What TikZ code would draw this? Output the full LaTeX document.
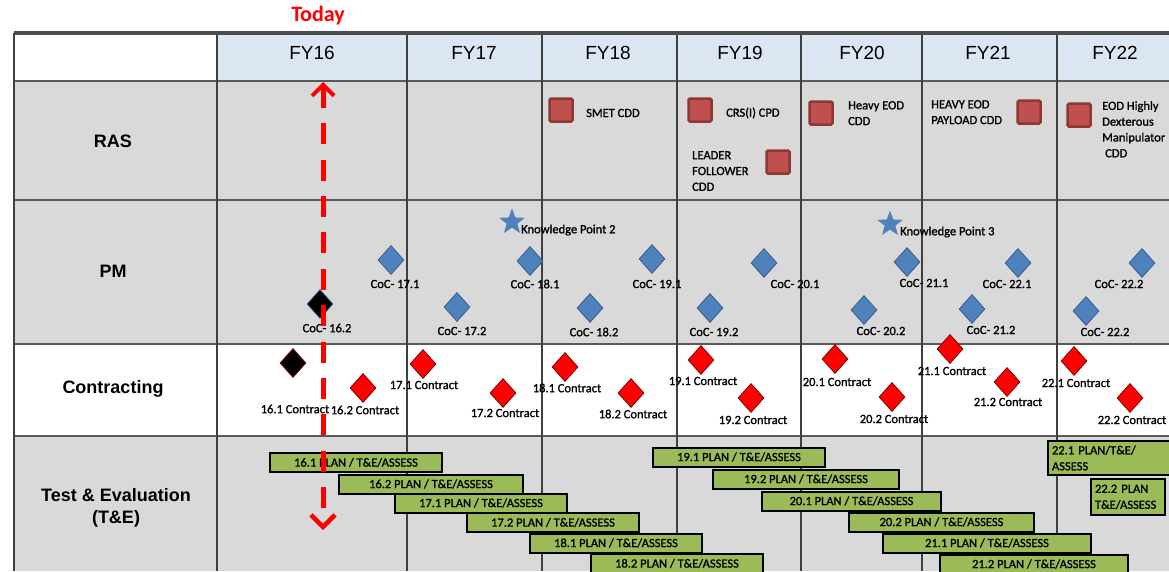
\documentclass[tikz,border=0pt]{standalone}
\usepackage{fontspec}
\setmainfont{Carlito}
\newfontfamily\lblfont[FakeBold=1.2]{Carlito}
\newfontfamily\arialfont{Liberation Sans}
\usetikzlibrary{shapes.geometric,arrows.meta,positioning}
\definecolor{hdrblue}{HTML}{DCE6F2}
\definecolor{rowgray}{HTML}{D9D9D9}
\definecolor{gridgray}{HTML}{595959}
\definecolor{cddred}{HTML}{C0504D}
\definecolor{cddedge}{HTML}{8C3836}
\definecolor{cocblue}{HTML}{4F81BD}
\definecolor{cocedge}{HTML}{385D8A}
\definecolor{ctredge}{HTML}{7F0000}
\definecolor{tegreen}{HTML}{9BBB59}
\tikzset{
  yearhd/.style={font=\arialfont\fontsize{19}{22}\selectfont, inner sep=0pt},
  rowhd/.style={font=\arialfont\bfseries\fontsize{18}{22}\selectfont, align=center, inner sep=0pt},
  rowline/.style={draw=gridgray, line width=2pt},
  colline/.style={draw=black!75, line width=1.4pt},
  topline/.style={draw=black!70, line width=3.5pt},
  cdd/.style={rectangle, rounded corners=1.5pt, draw=cddedge, fill=cddred, line width=2.5pt,
    minimum size=23pt, inner sep=0pt},
  cddtxt/.style={font=\lblfont\fontsize{12.5}{15.8}\selectfont, align=left, inner sep=0pt},
  coc/.style={diamond, draw=cocedge, fill=cocblue, line width=0.8pt, minimum width=26pt,
    minimum height=29pt, inner sep=0pt},
  ctrdia/.style={coc, draw=ctredge, fill=red},
  kp/.style={star, star points=5, star point ratio=2.4, fill=cocblue, minimum size=27pt, inner sep=0pt},
  tag/.style={font=\lblfont\fontsize{12.5}{15}\selectfont, inner sep=0pt},
  tebar/.style={rectangle, draw=black, fill=tegreen, line width=2pt, minimum height=19pt,
    inner sep=0pt, font=\lblfont\fontsize{12.5}{15}\selectfont},
  tebox/.style={tebar, anchor=north west, align=left, inner xsep=4pt, inner ysep=3pt,
    font=\lblfont\fontsize{12.5}{16}\selectfont},
  todayarr/.style={draw=red, line width=5pt, dash pattern=on 21pt off 15.4pt,
    {Straight Barb[length=11pt,width=22pt,line width=4pt]}-{Straight Barb[length=12pt,width=24pt,line width=4.5pt]}},
}
\begin{document}
\begin{tikzpicture}[x=1pt,y=-1pt]
  \useasboundingbox (0,0) rectangle (1169,571);
  \clip (0,0) rectangle (1169,571);
  \fill[white] (0,0) rectangle (1169,571);
  \fill[hdrblue] (217,33) rectangle (1169,81);
  \fill[rowgray] (14,81) rectangle (1169,344);
  \fill[rowgray] (14,436) rectangle (1169,571);
  \foreach \y in {81,200,344,436} \draw[rowline] (14,\y) -- (1169,\y);
  \foreach \x in {217,407,542,677,801,922,1057} \draw[colline] (\x,33) -- (\x,571);
  \draw[colline] (14,33) -- (14,571);
  \draw[topline] (14,33) -- (1169,33);

  \node[font=\bfseries\fontsize{22}{24}\selectfont, text=red, inner sep=0pt] (today) at (318,16) {Today};
  \foreach \x/\yr in {312/16,474/17,608/18,740/19,862/20,988/21,1115/22}
    \node[yearhd] (fy\yr) at (\x,53) {FY\yr};
  \node[rowhd] (ras) at (113,141) {RAS};
  \node[rowhd] (pm) at (113,271) {PM};
  \node[rowhd] (contr) at (113,389) {Contracting};
  \node[rowhd] (te) at (116,508) {Test \& Evaluation\\(T\&E)};

  \node[cdd] (smet) at (561,110) {};
  \node[cddtxt, anchor=west] (smettxt) at (586,113) {SMET CDD};
  \node[cdd] (crs) at (700,110) {};
  \node[cddtxt, anchor=west] (crstxt) at (726,113) {CRS(I) CPD};
  \node[cdd] (lf) at (778,162) {};
  \node[cddtxt, anchor=north west] (lftxt) at (692,151) {LEADER\\FOLLOWER\\CDD};
  \node[cdd] (heod) at (821,113) {};
  \node[cddtxt, anchor=north west] (heodtxt) at (848,101) {Heavy EOD\\CDD};
  \node[cdd] (hpay) at (1029,112) {};
  \node[cddtxt, anchor=north west] (hpaytxt) at (931,100) {HEAVY EOD\\PAYLOAD CDD};
  \node[cdd] (hdm) at (1079,115) {};
  \node[cddtxt, anchor=north west] (hdmtxt) at (1102,101) {EOD Highly\\Dexterous\\Manipulator\\\hspace*{3pt}CDD};

  \node[kp] (kp2) at (512,222) {};
  \node[tag, anchor=west] (kp2txt) at (521,230) {Knowledge Point 2};
  \node[kp] (kp3) at (890,224) {};
  \node[tag, anchor=west] (kp3txt) at (900,232) {Knowledge Point 3};
  \node[coc, fill=black] (p162) at (320,304) {};
  \node[tag] (p162t) at (327,328) {CoC- 16.2};
  \node[coc] (p171) at (391,260) {};
  \node[tag] (p171t) at (395,284) {CoC- 17.1};
  \node[coc] (p172) at (457,307) {};
  \node[tag] (p172t) at (462,331) {CoC- 17.2};
  \node[coc] (p181) at (530,261) {};
  \node[tag] (p181t) at (535,284) {CoC- 18.1};
  \node[coc] (p182) at (590,308) {};
  \node[tag] (p182t) at (594,332) {CoC- 18.2};
  \node[coc] (p191) at (652,259) {};
  \node[tag] (p191t) at (657,284) {CoC- 19.1};
  \node[coc] (p192) at (710,308) {};
  \node[tag] (p192t) at (714,332) {CoC- 19.2};
  \node[coc] (p201) at (764,263) {};
  \node[tag] (p201t) at (795,284) {CoC- 20.1};
  \node[coc] (p202) at (864,310) {};
  \node[tag] (p202t) at (881,331) {CoC- 20.2};
  \node[coc] (p211) at (907,262) {};
  \node[tag] (p211t) at (924,283) {CoC- 21.1};
  \node[coc] (p212) at (972,309) {};
  \node[tag] (p212t) at (991,330) {CoC- 21.2};
  \node[coc] (p221) at (1018,263) {};
  \node[tag] (p221t) at (1007,284) {CoC- 22.1};
  \node[coc] (p222a) at (1142,263) {};
  \node[tag] (p222at) at (1119,284) {CoC- 22.2};
  \node[coc] (p222b) at (1086,311) {};
  \node[tag] (p222bt) at (1105,332) {CoC- 22.2};

  \node[ctrdia, fill=black] (c161) at (293,363) {};
  \node[tag] (c161t) at (295,409) {16.1 Contract};
  \node[ctrdia] (c162) at (363,388) {};
  \node[tag] (c162t) at (365,410) {16.2 Contract};
  \node[ctrdia] (c171) at (423,364) {};
  \node[tag] (c171t) at (424,385) {17.1 Contract};
  \node[ctrdia] (c172) at (503,393) {};
  \node[tag] (c172t) at (505,413) {17.2 Contract};
  \node[ctrdia] (c181) at (565,367) {};
  \node[tag] (c181t) at (567,388) {18.1 Contract};
  \node[ctrdia] (c182) at (631,393) {};
  \node[tag] (c182t) at (633,414) {18.2 Contract};
  \node[ctrdia] (c191) at (701,360) {};
  \node[tag] (c191t) at (703,381) {19.1 Contract};
  \node[ctrdia] (c192) at (751,398) {};
  \node[tag] (c192t) at (753,420) {19.2 Contract};
  \node[ctrdia] (c201) at (835,359) {};
  \node[tag] (c201t) at (837,382) {20.1 Contract};
  \node[ctrdia] (c202) at (892,397) {};
  \node[tag] (c202t) at (894,419) {20.2 Contract};
  \node[ctrdia] (c211) at (950,349) {};
  \node[tag] (c211t) at (952,371) {21.1 Contract};
  \node[ctrdia] (c212) at (1007,382) {};
  \node[tag] (c212t) at (1008,402) {21.2 Contract};
  \node[ctrdia] (c221) at (1074,361) {};
  \node[tag] (c221t) at (1076,383) {22.1 Contract};
  \node[ctrdia] (c222) at (1130,398) {};
  \node[tag] (c222t) at (1132,420) {22.2 Contract};

  \node[tebar, minimum width=172pt] (t161) at (356,462.5) {16.1 PLAN / T\&E/ASSESS};
  \node[tebar, minimum width=184pt] (t162) at (431,484) {16.2 PLAN / T\&E/ASSESS};
  \node[tebar, minimum width=172pt] (t171) at (481,503) {17.1 PLAN / T\&E/ASSESS};
  \node[tebar, minimum width=172pt] (t172) at (553,522.5) {17.2 PLAN / T\&E/ASSESS};
  \node[tebar, minimum width=172pt] (t181) at (616,543) {18.1 PLAN / T\&E/ASSESS};
  \node[tebar, minimum width=172pt] (t182) at (677,563.5) {18.2 PLAN / T\&E/ASSESS};
  \node[tebar, minimum width=172pt] (t191) at (739,457) {19.1 PLAN / T\&E/ASSESS};
  \node[tebar, minimum width=186pt] (t192) at (806,479) {19.2 PLAN / T\&E/ASSESS};
  \node[tebar, minimum width=179pt] (t201) at (851.5,501) {20.1 PLAN / T\&E/ASSESS};
  \node[tebar, minimum width=185pt] (t202) at (941.5,522) {20.2 PLAN / T\&E/ASSESS};
  \node[tebar, minimum width=208pt] (t211) at (987,543) {21.1 PLAN / T\&E/ASSESS};
  \node[tebar, minimum width=188pt] (t212) at (1034,564) {21.2 PLAN / T\&E/ASSESS};
  \node[tebox, text width=125pt, minimum height=34pt] (t221) at (1047,440) {22.1 PLAN/T\&E/\\ASSESS};
  \node[tebox, text width=66pt, minimum height=36pt] (t222) at (1090,478) {22.2 PLAN\\T\&E/ASSESS};

  \coordinate (nowtop) at (323,82);
  \coordinate (nowbot) at (323,530);
  \draw[todayarr] (nowtop) -- (nowbot);
\end{tikzpicture}
\end{document}
